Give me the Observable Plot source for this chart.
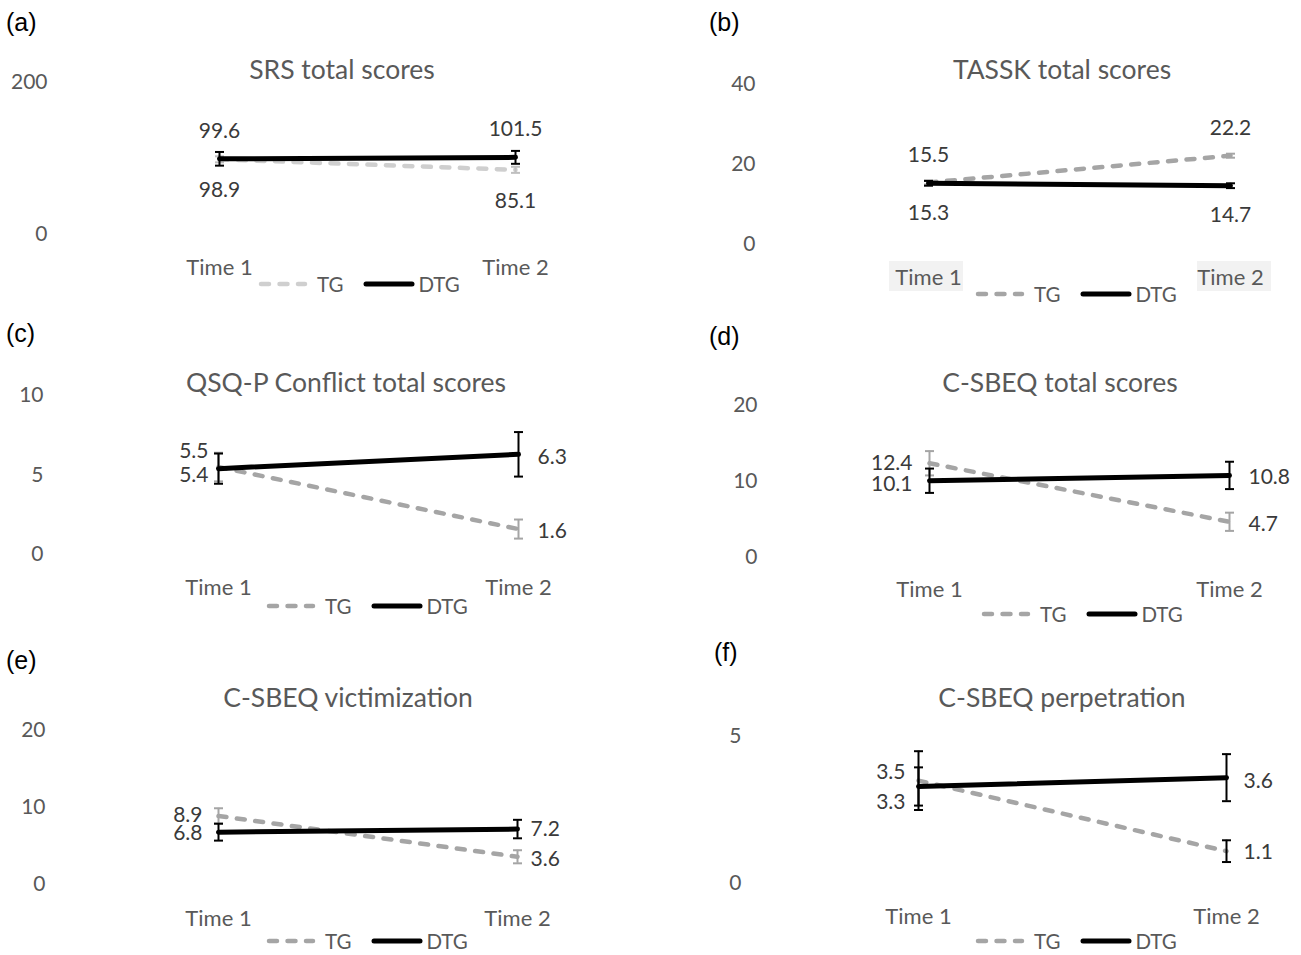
<!DOCTYPE html>
<html><head><meta charset="utf-8">
<script src="https://cdn.jsdelivr.net/npm/d3@7"></script>
<script src="https://cdn.jsdelivr.net/npm/@observablehq/plot@0.6"></script>
<style>
body{margin:0;background:#fff;}
#root{position:relative;width:1301px;height:955px;overflow:hidden;font-family:Lato,sans-serif;background:#fff;}
.abs{position:absolute;white-space:nowrap;}
.panel{position:absolute;}
.title{font-size:26.5px;color:#595959;transform:translate(-50%,-50%);}
.letter{font-family:"Liberation Sans",Arial,sans-serif;font-size:25px;color:#000;transform:translateY(-50%);}
.legend{display:flex;align-items:center;font-size:20.5px;color:#595959;transform:translateY(-50%);}
.box{background:#F2F2F2;}
</style></head><body><div id="root"></div>
<script>
// ---- data ----
const times = ["Time 1", "Time 2"];
const groups = ["TG", "DTG"];
const letters = ["(a)", "(b)", "(c)", "(d)", "(e)", "(f)"];
const titles = ["SRS total scores", "TASSK total scores", "QSQ-P Conflict total scores",
  "C-SBEQ total scores", "C-SBEQ victimization", "C-SBEQ perpetration"];
const tgMeans  = [[98.9, 85.1], [15.5, 22.2], [5.5, 1.6], [12.4, 4.7], [8.9, 3.6], [3.5, 1.1]];
const dtgMeans = [[99.6, 101.5], [15.3, 14.7], [5.4, 6.3], [10.1, 10.8], [6.8, 7.2], [3.3, 3.6]];
const tgErrors  = [[4, 4], [0.5, 0.5], [0.9, 0.6], [1.6, 1.2], [1.0, 0.85], [1.0, 0.37]];
const dtgErrors = [[9, 8.5], [0.6, 0.6], [0.95, 1.4], [1.6, 1.8], [1.1, 1.2], [0.65, 0.8]];
const yMax = [200, 40, 10, 20, 20, 5];
const yTicks = [[0, 200], [0, 20, 40], [0, 5, 10], [0, 10, 20], [0, 10, 20], [0, 5]];

// ---- layout (page pixels) ----
const layout = [
  {left:0, top:0, w:650, h:320, x1:219, x2:515, y0:234, yTop:82, tickRight:47, xLabelY:266,
   titleX:342, titleY:69, letterX:6, letterY:22, legendX:258, legendY:284,
   tgColor:"#CFCFCF", tgErrColor:"#BFBFBF",
   lab:{TG:[[0,31,"middle"],[0,31,"middle"]], DTG:[[0,-28,"middle"],[0,-28,"middle"]]}},
  {left:650, top:0, w:651, h:320, x1:928, x2:1230, y0:244, yTop:84, tickRight:755, xLabelY:276,
   titleX:1062, titleY:69, letterX:709, letterY:22, legendX:975, legendY:294, boxes:true,
   tgColor:"#A5A5A5", tgErrColor:"#A5A5A5",
   lab:{TG:[[0,-27,"middle"],[0,-27,"middle"]], DTG:[[0,30,"middle"],[0,30,"middle"]]}},
  {left:0, top:320, w:650, h:320, x1:218, x2:518, y0:554, yTop:395, tickRight:43, xLabelY:586,
   titleX:346, titleY:382, letterX:6, letterY:333, legendX:266, legendY:606,
   tgColor:"#A5A5A5", tgErrColor:"#A5A5A5",
   lab:{TG:[[-10,-15.5,"end"],[19,2,"start"]], DTG:[[-10,7,"end"],[19,3,"start"]]}},
  {left:650, top:320, w:651, h:320, x1:929, x2:1229, y0:557, yTop:405, tickRight:757, xLabelY:588,
   titleX:1060, titleY:382, letterX:709, letterY:336, legendX:981, legendY:614,
   tgColor:"#A5A5A5", tgErrColor:"#A5A5A5",
   lab:{TG:[[-17,0,"end"],[19,2,"start"]], DTG:[[-17,3.5,"end"],[19,2,"start"]]}},
  {left:0, top:640, w:650, h:315, x1:218, x2:517, y0:884, yTop:730, tickRight:45, xLabelY:917,
   titleX:348, titleY:697, letterX:6, letterY:660, legendX:266, legendY:941,
   tgColor:"#A5A5A5", tgErrColor:"#A5A5A5",
   lab:{TG:[[-16,-0.5,"end"],[13,2,"start"]], DTG:[[-16,1,"end"],[13,0,"start"]]}},
  {left:650, top:640, w:651, h:315, x1:918, x2:1226, y0:883, yTop:736, tickRight:741, xLabelY:915,
   titleX:1062, titleY:697, letterX:714, letterY:652, legendX:975, legendY:941,
   tgColor:"#A5A5A5", tgErrColor:"#000000",
   lab:{TG:[[-13,-8,"end"],[17,1,"start"]], DTG:[[-13,16,"end"],[17,4,"start"]]}}
];

const capSymbol = {draw(ctx, size){ const r = Math.sqrt(size / Math.PI); ctx.moveTo(-r, 0); ctx.lineTo(r, 0); }};
const root = document.getElementById("root");

function addDiv(cls, left, top, html){
  const d = document.createElement("div");
  d.className = "abs " + cls;
  d.style.left = left + "px"; d.style.top = top + "px";
  d.innerHTML = html;
  root.appendChild(d);
  return d;
}

layout.forEach((L, i) => {
  const rows = [];
  times.forEach((t, k) => {
    rows.push({group:"TG", time:t, k, mean:tgMeans[i][k], err:tgErrors[i][k]});
    rows.push({group:"DTG", time:t, k, mean:dtgMeans[i][k], err:dtgErrors[i][k]});
  });
  const tg = rows.filter(d => d.group === "TG");
  const dtg = rows.filter(d => d.group === "DTG");

  if (L.boxes) {
    const b1 = addDiv("box", 889, 261, ""); b1.style.width = "74px"; b1.style.height = "30px";
    const b2 = addDiv("box", 1197, 261, ""); b2.style.width = "74px"; b2.style.height = "30px";
  }

  const labelMarks = rows.map(d => {
    const [dx, dy, anchor] = L.lab[d.group][d.k];
    return Plot.text([d], {x:"time", y:"mean", text: r => r.mean.toFixed(1), dx, dy,
      textAnchor: anchor, fill:"#3A3A3A", fontSize: 21});
  });

  const errMarks = (data, color) => [
    Plot.ruleX(data, {x:"time", y1: d => d.mean - d.err, y2: d => d.mean + d.err, stroke: color, strokeWidth: 2}),
    Plot.dot(data, {x:"time", y: d => d.mean + d.err, symbol: capSymbol, r: 4.5, stroke: color, strokeWidth: 2, fill: "none"}),
    Plot.dot(data, {x:"time", y: d => d.mean - d.err, symbol: capSymbol, r: 4.5, stroke: color, strokeWidth: 2, fill: "none"})
  ];

  const marginLeft = L.tickRight - L.left + 3;
  const labelTop = L.xLabelY - L.top - 7.5;
  const marginBottom = L.h - (labelTop - 3);

  const chart = Plot.plot({
    width: L.w, height: L.h,
    marginLeft, marginBottom, marginTop: 0, marginRight: 0,
    style: {background: "transparent", fontFamily: "Lato, sans-serif", color: "#595959", overflow: "visible"},
    x: {type: "point", domain: times, range: [L.x1 - L.left, L.x2 - L.left], padding: 0},
    y: {domain: [0, yMax[i]], range: [L.y0 - L.top, L.yTop - L.top]},
    marks: [
      Plot.axisY({ticks: yTicks[i], tickFormat: d => String(d), tickSize: 0, tickPadding: 3, fontSize: 21, label: null}),
      Plot.axisX({tickSize: 0, tickPadding: 3, fontSize: 22, label: null}),
      Plot.line(tg, {x:"time", y:"mean", stroke: L.tgColor, strokeWidth: 4.5, strokeDasharray: "8,10.5", strokeLinecap: "round"}),
      ...errMarks(tg, L.tgErrColor),
      Plot.line(dtg, {x:"time", y:"mean", stroke: "#000", strokeWidth: 5, strokeLinecap: "round"}),
      ...errMarks(dtg, "#000"),
      ...labelMarks
    ]
  });
  const holder = document.createElement("div");
  holder.className = "panel";
  holder.style.left = L.left + "px"; holder.style.top = L.top + "px";
  holder.style.width = L.w + "px"; holder.style.height = L.h + "px";
  holder.appendChild(chart);
  root.appendChild(holder);

  addDiv("letter", L.letterX, L.letterY, letters[i]);
  addDiv("title", L.titleX, L.titleY, titles[i]);
  const sw = (color, dash, width, len) =>
    `<svg width="${len}" height="10" style="display:block"><line x1="3" y1="5" x2="${len - 3}" y2="5" stroke="${color}" stroke-width="${width}" ${dash ? `stroke-dasharray="${dash}"` : ""} stroke-linecap="round"/></svg>`;
  addDiv("legend", L.legendX, L.legendY,
    sw(L.tgColor, "8,10.5", 4.5, 50) + `<span style="margin-left:9px">${groups[0]}</span>` +
    `<span style="width:20px"></span>` +
    sw("#000", "", 5, 52) + `<span style="margin-left:3px">${groups[1]}</span>`);
});
</script></body></html>
